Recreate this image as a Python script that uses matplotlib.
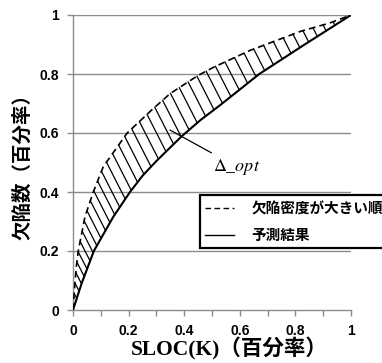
import numpy as np
import matplotlib
matplotlib.use("Agg")
import matplotlib.pyplot as plt
from matplotlib.lines import Line2D

# ---- data ----
dashed_x = [0, 0.007, 0.012, 0.019, 0.043, 0.073, 0.109, 0.195, 0.283, 0.35, 0.45, 0.504, 0.637, 0.82, 0.924, 1.0]
dashed_y = [0, 0.09, 0.147, 0.2, 0.316, 0.4, 0.486, 0.6, 0.678, 0.734, 0.795, 0.822, 0.88, 0.945, 0.973, 1.0]
solid_x = [0, 0.031, 0.075, 0.145, 0.205, 0.25, 0.30, 0.39, 0.46, 0.53, 0.57, 0.67, 0.83, 1.0]
solid_y = [0, 0.09, 0.2, 0.316, 0.4, 0.455, 0.505, 0.588, 0.645, 0.695, 0.725, 0.8, 0.898, 1.0]
x_ticks = [0, 0.2, 0.4, 0.6, 0.8, 1]
x_tick_labels = ["0", "0.2", "0.4", "0.6", "0.8", "1"]
y_ticks = [0, 0.2, 0.4, 0.6, 0.8, 1]
y_tick_labels = ["0", "0.2", "0.4", "0.6", "0.8", "1"]
legend_labels = ["欠陥密度が大きい順", "予測結果"]
annot_text = r"$\Delta\_opt$"
ylabel = "欠陥数（百分率）"
xlabel = "SLOC(K)（百分率）"

plt.rcParams["mathtext.fontset"] = "stix"
W, H = 382, 363
fig = plt.figure(figsize=(W / 100, H / 100), dpi=100)
ax = fig.add_axes([73 / W, 1 - 310 / H, 278 / W, 295 / H])
ax.set_xlim(0, 1)
ax.set_ylim(0, 1)

grey = "#8c8c8c"
for yv in y_ticks[1:]:
    ax.axhline(yv, color=grey, lw=1.0, zorder=1)

ax.plot(dashed_x, dashed_y, color="black", lw=1.2, ls=(0, (4, 2.5)), zorder=3)
ax.plot(solid_x, solid_y, color="black", lw=1.5, zorder=3)

# hatch segments between the two curves
fig.canvas.draw()
T = ax.transData
Pd = T.transform(np.column_stack([dashed_x, dashed_y]))
Ps = T.transform(np.column_stack([solid_x, solid_y]))
seg = np.diff(Pd, axis=0)
seglen = np.hypot(seg[:, 0], seg[:, 1])
cum = np.concatenate([[0], np.cumsum(seglen)])
theta = np.deg2rad(63)
dvec = np.array([np.cos(theta), -np.sin(theta)])
step = 10.5
for s in np.arange(6, cum[-1], step):
    i = min(np.searchsorted(cum, s) - 1, len(seglen) - 1)
    i = max(i, 0)
    f = (s - cum[i]) / seglen[i]
    p = Pd[i] + f * seg[i]
    best = None
    for j in range(len(Ps) - 1):
        a, b = Ps[j], Ps[j + 1]
        e = b - a
        M = np.array([[dvec[0], -e[0]], [dvec[1], -e[1]]])
        if abs(np.linalg.det(M)) < 1e-9:
            continue
        t, u = np.linalg.solve(M, a - p)
        if t > 0 and 0 <= u <= 1:
            if best is None or t < best:
                best = t
    if best is None or best < 3:
        continue
    q = p + best * dvec
    pts = T.inverted().transform(np.array([p, q]))
    ax.plot(pts[:, 0], pts[:, 1], color="black", lw=0.9, zorder=2)

# annotation
ax.annotate(annot_text, xy=(0.349, 0.61), xytext=(0.505, 0.485),
            fontsize=13, va="center", ha="left",
            arrowprops=dict(arrowstyle="-", color="black", lw=0.9,
                            shrinkA=2, shrinkB=0))

for sp in ["top", "right"]:
    ax.spines[sp].set_visible(False)
for sp in ["left", "bottom"]:
    ax.spines[sp].set_color(grey)
    ax.spines[sp].set_linewidth(1.0)
ax.set_xticks(x_ticks)
ax.set_xticks(np.arange(0, 1.01, 0.1), minor=True)
ax.set_xticklabels(x_tick_labels)
ax.set_yticks(y_ticks)
ax.set_yticklabels(y_tick_labels)
ax.tick_params(axis="both", which="both", direction="out", length=4, color=grey, width=1.0)
ax.tick_params(axis="x", pad=6)
ax.tick_params(axis="y", pad=6)
for lab in ax.get_xticklabels() + ax.get_yticklabels():
    lab.set_fontfamily(["Liberation Sans", "DejaVu Sans"])
    lab.set_fontweight("bold")
    lab.set_fontsize(10)

ax.set_ylabel(ylabel, fontfamily=["Noto Sans CJK JP"], fontweight="bold", fontsize=14, labelpad=5)
fig.text(131 / W, 1 - 349 / H, xlabel, ha="left", va="center",
         fontfamily=["Liberation Serif", "Noto Sans CJK JP"], fontweight="bold", fontsize=15.5)

handles = [Line2D([], [], color="black", lw=1.0, ls=(0, (4, 2.5))),
           Line2D([], [], color="black", lw=1.0)]
leg = fig.legend(handles, legend_labels, loc="upper left",
                 bbox_to_anchor=(200 / W, 1 - 195 / H), bbox_transform=fig.transFigure,
                 prop=dict(family=["Noto Sans CJK JP"], weight="bold", size=10.5),
                 frameon=True, fancybox=False, edgecolor="black", framealpha=1,
                 handlelength=2.0, handletextpad=1.2, borderpad=0.35, labelspacing=0.75,
                 borderaxespad=0)
leg.get_frame().set_linewidth(1.6)

fig.savefig("out.png", dpi=100)
